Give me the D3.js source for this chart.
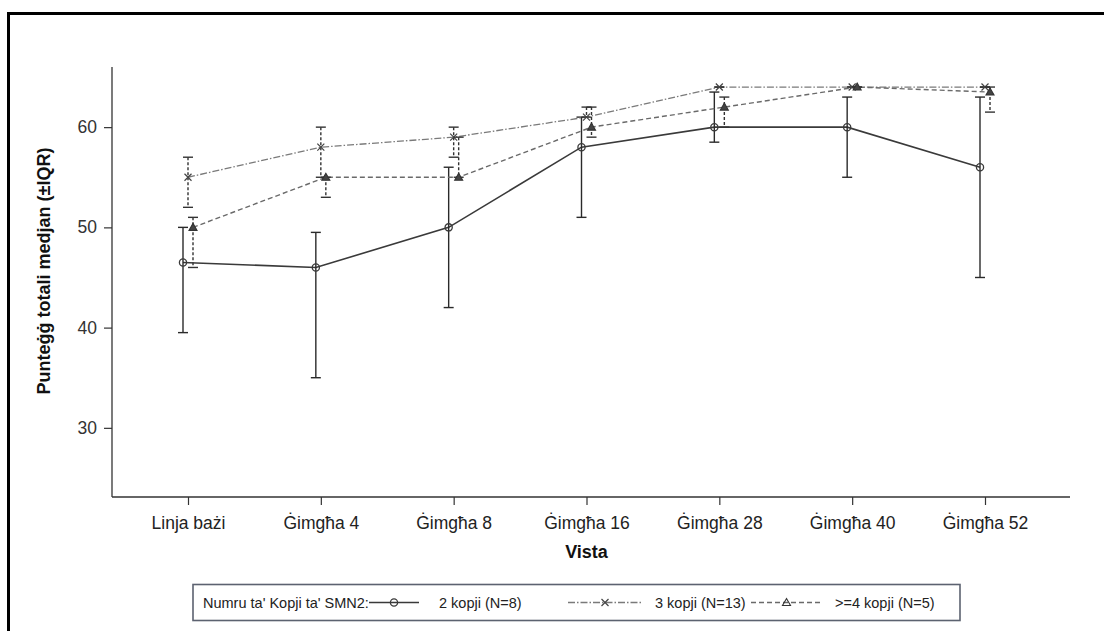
<!DOCTYPE html>
<html>
<head>
<meta charset="utf-8">
<script src="https://cdn.jsdelivr.net/npm/d3@7"></script>
<style>
  html, body { margin: 0; padding: 0; background: #fff; }
  svg { display: block; font-family: "Liberation Sans", Arial, sans-serif; }
</style>
</head>
<body>
<svg id="chart" width="1104" height="631"></svg>
<script>
// Visits on the x axis
const visits = ["Linja bażi", "Ġimgħa 4", "Ġimgħa 8", "Ġimgħa 16", "Ġimgħa 28", "Ġimgħa 40", "Ġimgħa 52"];

// 2 copies of SMN2 (N=8): median and interquartile range
const copies2Median = [46.5, 46, 50, 58, 60, 60, 56];
const copies2Q1     = [39.5, 35, 42, 51, 58.5, 55, 45];
const copies2Q3     = [50, 49.5, 56, 61, 63.5, 63, 63];

// 3 copies of SMN2 (N=13)
const copies3Median = [55, 58, 59, 61, 64, 64, 64];
const copies3Q1     = [52, 55, 57, 61, 64, 64, 64];
const copies3Q3     = [57, 60, 60, 62, 64, 64, 64];

// >=4 copies of SMN2 (N=5)
const copies4Median = [50, 55, 55, 60, 62, 64, 63.5];
const copies4Q1     = [46, 53, 55, 59, 60, 64, 61.5];
const copies4Q3     = [51, 55, 59, 62, 63, 64, 64];

const yTicks = [30, 40, 50, 60];

const legendTitle = "Numru ta' Kopji ta' SMN2:";
const seriesLabels = ["2 kopji (N=8)", "3 kopji (N=13)", ">=4 kopji (N=5)"];
const yTitle = "Punteġġ totali medjan (±IQR)";
const xTitle = "Vista";

const svg = d3.select("#chart");

// outer frame
svg.append("rect")
  .attr("x", 8.5).attr("y", 13.5)
  .attr("width", 1200).attr("height", 700)
  .attr("fill", "none").attr("stroke", "#000").attr("stroke-width", 3);

const axisLeft = 112, axisRight = 1070, axisTop = 67, axisBottom = 497;

const x = d3.scalePoint().domain(visits).range([188, 985]);
const y = d3.scaleLinear().domain([23.1, 66.0]).range([axisBottom, axisTop]);

// axes
const axisColor = "#333";
const gx = svg.append("g").attr("transform", `translate(0,${axisBottom})`)
  .call(d3.axisBottom(x).tickSize(8).tickPadding(12).tickSizeOuter(0));
gx.select(".domain").remove();
gx.append("line").attr("x1", axisLeft).attr("x2", axisRight)
  .attr("stroke", axisColor).attr("stroke-width", 1.3);
gx.selectAll(".tick line").attr("stroke", axisColor).attr("stroke-width", 1.2);
gx.selectAll(".tick text").attr("font-size", 17.5).attr("fill", "#222")
  .attr("font-family", "Liberation Sans, Arial, sans-serif");

const gy = svg.append("g").attr("transform", `translate(${axisLeft},0)`)
  .call(d3.axisLeft(y).tickValues(yTicks).tickSize(8).tickPadding(7).tickSizeOuter(0));
gy.select(".domain").remove();
gy.append("line").attr("y1", axisTop).attr("y2", axisBottom)
  .attr("stroke", axisColor).attr("stroke-width", 1.3);
gy.selectAll(".tick line").attr("stroke", axisColor).attr("stroke-width", 1.2);
gy.selectAll(".tick text").attr("font-size", 17.5).attr("fill", "#333")
  .attr("font-family", "Liberation Sans, Arial, sans-serif");

// axis titles
svg.append("text")
  .attr("transform", `translate(50,271) rotate(-90)`)
  .attr("text-anchor", "middle")
  .attr("font-size", 18).attr("font-weight", "bold").attr("fill", "#111")
  .text(yTitle);

svg.append("text")
  .attr("x", (x(visits[0]) + x(visits[visits.length - 1])) / 2).attr("y", 558)
  .attr("text-anchor", "middle")
  .attr("font-size", 18).attr("font-weight", "bold").attr("fill", "#111")
  .text(xTitle);

// series definitions
const series = [
  { median: copies2Median, q1: copies2Q1, q3: copies2Q3, shift: -5, marker: "circle",
    color: "#3a3a3a", width: 1.6, dash: null, barDash: null, barColor: "#2a2a2a" },
  { median: copies3Median, q1: copies3Q1, q3: copies3Q3, shift: 0, marker: "cross",
    color: "#7a7a7a", width: 1.3, dash: "7,2,1.5,2", barDash: "3,2", barColor: "#333" },
  { median: copies4Median, q1: copies4Q1, q3: copies4Q3, shift: 5, marker: "triangle",
    color: "#6a6a6a", width: 1.4, dash: "5,3", barDash: "3,2", barColor: "#333" }
];

function drawMarker(g, type, cx, cy, color, legend) {
  if (type === "circle") {
    g.append("circle").attr("cx", cx).attr("cy", cy).attr("r", 3.6)
      .attr("fill", "none").attr("stroke", color).attr("stroke-width", 1.3);
  } else if (type === "cross") {
    const s = 3.5;
    g.append("path")
      .attr("d", `M${cx - s},${cy - s}L${cx + s},${cy + s}M${cx - s},${cy + s}L${cx + s},${cy - s}`)
      .attr("stroke", "#444").attr("stroke-width", 1.2).attr("fill", "none");
  } else {
    const s = 4;
    g.append("path")
      .attr("d", `M${cx},${cy - s}L${cx + s},${cy + s * 0.75}L${cx - s},${cy + s * 0.75}Z`)
      .attr("stroke", "#333").attr("stroke-width", 1.1)
      .attr("fill", legend ? "none" : "#444");
  }
}

const plot = svg.append("g");
const capHalf = 5;

series.forEach(s => {
  const px = i => x(visits[i]) + s.shift;
  const pts = visits.map((v, i) => [px(i), y(s.median[i])]);

  // median line
  plot.append("path")
    .attr("d", d3.line()(pts))
    .attr("fill", "none")
    .attr("stroke", s.color)
    .attr("stroke-width", s.width)
    .attr("stroke-dasharray", s.dash);

  // IQR bars
  visits.forEach((v, i) => {
    const cx = px(i), yl = y(s.q1[i]), yh = y(s.q3[i]);
    const g = plot.append("g").attr("stroke", s.barColor).attr("stroke-width", 1.4).attr("fill", "none");
    g.append("line").attr("x1", cx).attr("x2", cx).attr("y1", yh).attr("y2", yl)
      .attr("stroke-dasharray", s.barDash);
    g.append("line").attr("x1", cx - capHalf).attr("x2", cx + capHalf).attr("y1", yh).attr("y2", yh);
    g.append("line").attr("x1", cx - capHalf).attr("x2", cx + capHalf).attr("y1", yl).attr("y2", yl);
  });

  visits.forEach((v, i) => drawMarker(plot, s.marker, px(i), y(s.median[i]), s.color, false));
});

// legend
const lg = svg.append("g");
lg.append("rect")
  .attr("x", 193).attr("y", 584.5).attr("width", 767).attr("height", 36)
  .attr("fill", "#fff").attr("stroke", "#5c6270").attr("stroke-width", 1.6);

const legendFont = 14.5;
const baseY = 608;
lg.append("text").attr("x", 203).attr("y", baseY)
  .attr("font-size", legendFont).attr("fill", "#222").text(legendTitle);

const legendItems = [
  { x0: 369, x1: 419, tx: 439 },
  { x0: 568, x1: 642, tx: 655 },
  { x0: 751, x1: 822, tx: 835 }
];
const lineY = 602.5;
series.forEach((s, k) => {
  const it = legendItems[k];
  lg.append("line").attr("x1", it.x0).attr("x2", it.x1).attr("y1", lineY).attr("y2", lineY)
    .attr("stroke", s.color).attr("stroke-width", s.width)
    .attr("stroke-dasharray", s.dash);
  drawMarker(lg, s.marker, (it.x0 + it.x1) / 2, lineY, s.color, true);
  lg.append("text").attr("x", it.tx).attr("y", baseY)
    .attr("font-size", legendFont).attr("fill", "#222").text(seriesLabels[k]);
});
</script>
</body>
</html>
